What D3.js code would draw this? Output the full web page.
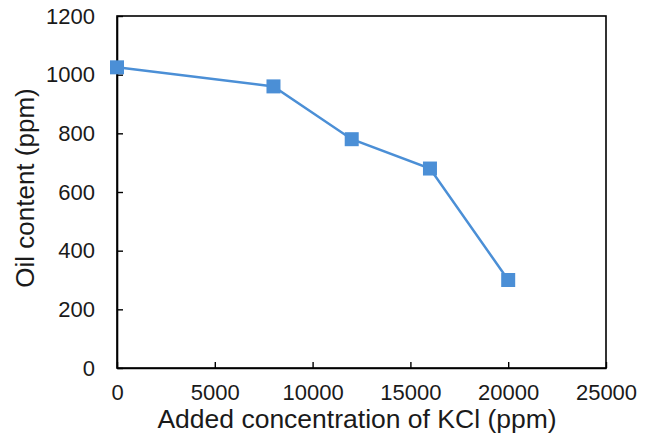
<!DOCTYPE html>
<html>
<head>
<meta charset="utf-8">
<script src="https://cdn.jsdelivr.net/npm/d3@7"></script>
<style>
  html, body { margin: 0; padding: 0; background: #fff; }
  svg { display: block; font-family: "Liberation Sans", Arial, sans-serif; }
</style>
</head>
<body>
<svg id="chart" width="650" height="438"></svg>
<script>
// KCl dosage vs. residual oil content
const kclPpm = [0, 8000, 12000, 16000, 20000];
const oilPpm = [1025, 960, 780, 680, 300];
const xTicks = [0, 5000, 10000, 15000, 20000, 25000];
const yTicks = [0, 200, 400, 600, 800, 1000, 1200];

const svg = d3.select("#chart");
const m = { left: 117, right: 606, top: 16, bottom: 368 };

const x = d3.scaleLinear().domain([0, 25000]).range([m.left, m.right]);
const y = d3.scaleLinear().domain([0, 1200]).range([m.bottom, m.top]);

const color = "#4b8fd6";
const fmt = d3.format("d");

// frame
svg.append("rect")
  .attr("x", m.left).attr("y", m.top)
  .attr("width", m.right - m.left).attr("height", m.bottom - m.top)
  .attr("fill", "none").attr("stroke", "#000").attr("stroke-width", 1.6);

// axes with inward ticks
const xAxis = svg.append("g")
  .attr("transform", `translate(0,${m.bottom})`)
  .call(d3.axisBottom(x).tickValues(xTicks).tickFormat(fmt)
    .tickSizeInner(-6).tickSizeOuter(0).tickPadding(16));
const yAxis = svg.append("g")
  .attr("transform", `translate(${m.left},0)`)
  .call(d3.axisLeft(y).tickValues(yTicks).tickFormat(fmt)
    .tickSizeInner(-6).tickSizeOuter(0).tickPadding(22));

[xAxis, yAxis].forEach(g => {
  g.select(".domain").attr("stroke", "#000").attr("stroke-width", 1.6);
  g.selectAll(".tick line").attr("stroke", "#000").attr("stroke-width", 1.4);
  g.selectAll(".tick text")
    .attr("fill", "#1a1a1a")
    .style("font-size", "22px")
    .style("font-family", "'Liberation Sans', Arial, sans-serif");
});

// series line
const pts = kclPpm.map((k, i) => [k, oilPpm[i]]);
svg.append("path")
  .datum(pts)
  .attr("fill", "none")
  .attr("stroke", color)
  .attr("stroke-width", 2.5)
  .attr("d", d3.line().x(d => x(d[0])).y(d => y(d[1])));

// square markers
const s = 14;
svg.selectAll("rect.pt")
  .data(pts)
  .join("rect")
  .attr("class", "pt")
  .attr("x", d => x(d[0]) - s / 2)
  .attr("y", d => y(d[1]) - s / 2)
  .attr("width", s).attr("height", s)
  .attr("fill", color);

// axis titles
svg.append("text")
  .attr("x", 357)
  .attr("y", 428)
  .attr("text-anchor", "middle")
  .style("font-size", "26.5px")
  .attr("fill", "#1a1a1a")
  .text("Added concentration of KCl (ppm)");

svg.append("text")
  .attr("transform", `translate(34,188) rotate(-90)`)
  .attr("text-anchor", "middle")
  .style("font-size", "26px")
  .attr("fill", "#1a1a1a")
  .text("Oil content (ppm)");
</script>
</body>
</html>
